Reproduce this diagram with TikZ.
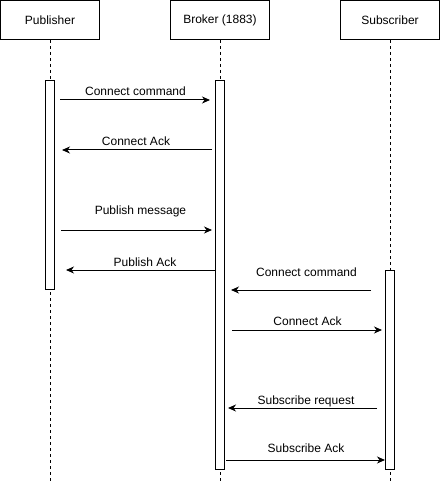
\documentclass[tikz,border=0pt]{standalone}
\usepackage{fontspec}
\setmainfont{Liberation Sans}
\usetikzlibrary{arrows.meta,calc}
\begin{document}
\begin{tikzpicture}[x=1pt,y=-1pt, font=\fontsize{12}{14}\selectfont, line width=1pt,
  hdr/.style={draw, minimum width=99pt, minimum height=39pt, inner sep=0pt},
  life/.style={dash pattern=on 3pt off 3pt},
  bar/.style={draw, fill=white, minimum width=9pt, inner sep=0pt},
  msg/.style={-{Stealth[length=8pt,width=7pt,inset=2.5pt]}},
  lbl/.style={anchor=base, inner sep=0pt}]
\useasboundingbox (0,0) rectangle (441,481);
% headers
\node[hdr] (pub) at (50,20) {Publisher};
\node[hdr] (bro) at (220,20) {Broker (1883)};
\node[hdr] (sub) at (390,20) {Subscriber};
% lifelines
\coordinate (pend) at (50,481);
\coordinate (bend) at (220,481);
\coordinate (send) at (390,481);
\draw[life] (pub.south) -- (pend);
\draw[life] (bro.south) -- (bend);
\draw[life] (sub.south) -- (send);
% activation bars
\node[bar, minimum height=209pt] (pa) at (50,185) {};
\node[bar, minimum height=389pt] (ba) at (220,275) {};
\node[bar, minimum height=199pt] (sa) at (390,370) {};
% message levels
\coordinate (m1) at (0,100);
\coordinate (m2) at (0,150);
\coordinate (m3) at (0,230);
\coordinate (m4) at (0,270);
\coordinate (m5) at (0,290);
\coordinate (m6) at (0,330);
\coordinate (m7) at (0,408);
\coordinate (m8) at (0,460);
% messages
\draw[msg] ($(pa.east |- m1)+(5,0)$) -- ($(ba.west |- m1)+(-5,0)$);
\draw[msg] ($(ba.west |- m2)+(-3,0)$) -- ($(pa.east |- m2)+(7,0)$);
\draw[msg] ($(pa.east |- m3)+(6,0)$) -- ($(ba.west |- m3)+(-3,0)$);
\draw[msg] ($(ba.west |- m4)+(1,0)$) -- ($(pa.east |- m4)+(11,0)$);
\draw[msg] ($(sa.west |- m5)+(-14,0)$) -- ($(ba.east |- m5)+(6,0)$);
\draw[msg] ($(ba.east |- m6)+(7,0)$) -- ($(sa.west |- m6)+(-3,0)$);
\draw[msg] ($(sa.west |- m7)+(-8,0)$) -- ($(ba.east |- m7)+(3,0)$);
\draw[msg] ($(ba.east |- m8)+(1,0)$) -- ($(sa.west |- m8)$);
% labels
\node[lbl] (l1) at (135.5,96) {Connect command};
\node[lbl] (l2) at (136,145.5) {Connect Ack};
\node[lbl] (l3) at (140.5,214) {Publish message};
\node[lbl] (l4) at (145,266) {Publish Ack};
\node[lbl] (l5) at (306.5,276) {Connect command};
\node[lbl] (l6) at (307.5,325) {Connect Ack};
\node[lbl] (l7) at (306,404) {Subscribe request};
\node[lbl] (l8) at (306,452) {Subscribe Ack};
\end{tikzpicture}
\end{document}
